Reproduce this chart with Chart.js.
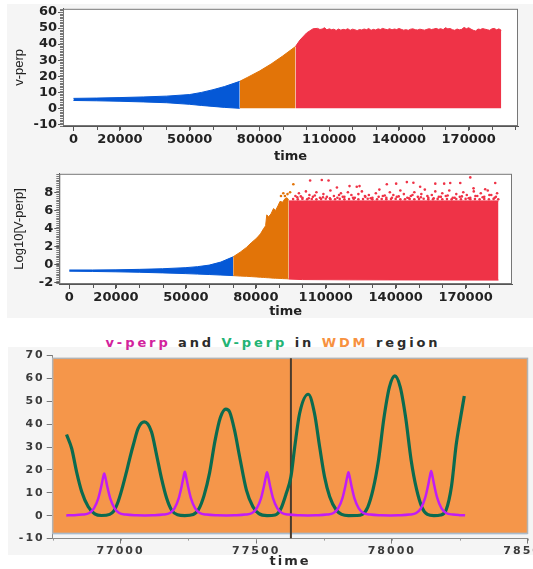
<!DOCTYPE html>
<html><head><meta charset="utf-8">
<script src="https://cdn.jsdelivr.net/npm/chart.js@4.4.1/dist/chart.umd.min.js"></script>
<style>
html,body{margin:0;padding:0;width:533px;height:569px;overflow:hidden;background:#fff;}
.bg{position:absolute;background:#f5f5f5;}
canvas{position:absolute;left:0;}
#title{position:absolute;left:0;width:546px;top:335px;text-align:center;font:bold 13px "DejaVu Sans",sans-serif;letter-spacing:2.9px;white-space:nowrap;line-height:16px;}
</style></head><body>
<div class="bg" style="left:7px;top:4px;width:526px;height:314px"></div>
<div class="bg" style="left:8px;top:347px;width:525px;height:208px"></div>
<div id="title"><span style="color:#d2229c">v-perp</span> <span style="color:#2b2b2b">and</span> <span style="color:#22b374">V-perp</span> <span style="color:#2b2b2b">in</span> <span style="color:#f7913f">WDM</span> <span style="color:#2b2b2b">region</span></div>
<canvas id="c1" width="533" height="165" style="top:0px"></canvas>
<canvas id="c2" width="533" height="155" style="top:165px"></canvas>
<canvas id="c3" width="560" height="222" style="top:347px"></canvas>
<script>
// ---------- tick labels ----------
const timeTickLabels = [0, 20000, 50000, 80000, 110000, 140000, 170000];
const p1YTicks = [-10, 0, 10, 20, 30, 40, 50, 60];
const p2YTicks = [-2, 0, 2, 4, 6, 8];
const wdmTickLabels = [77000, 77500, 78000, 78500];
const wdmYTicks = [-10, 0, 10, 20, 30, 40, 50, 60, 70];

// ---------- panel 1 : v-perp vs time ----------
const p1BlueT  = [0, 10000, 20000, 30000, 40000, 50000, 55000, 60000, 65000, 71500];
const p1BlueHi = [6.2, 6.4, 6.7, 7.1, 7.6, 8.6, 9.9, 11.6, 13.6, 16.8];
const p1BlueLo = [4.9, 4.7, 4.4, 4.0, 3.5, 2.5, 1.8, 1.2, 0.6, 0];
const p1OrangeT  = [71500, 75000, 80000, 85000, 90000, 95500];
const p1OrangeHi = [16.8, 19.4, 23.2, 27.6, 32.6, 38.5];
const p1RedT  = [95500, 97400, 100300, 103100, 105000, 106000, 107000, 108000, 109000, 110000, 111000, 112000, 113000, 114000, 115000, 116000, 117000, 118000, 119000, 120000, 121000, 122000, 123000, 124000, 125000, 126000, 127000, 128000, 129000, 130000, 131000, 132000, 133000, 134000, 135000, 136000, 137000, 138000, 139000, 140000, 141000, 142000, 143000, 144000, 145000, 146000, 147000, 148000, 149000, 150000, 151000, 152000, 153000, 154000, 155000, 156000, 157000, 158000, 159000, 160000, 161000, 162000, 163000, 164000, 165000, 166000, 167000, 168000, 169000, 170000, 171000, 172000, 173000, 174000, 175000, 176000, 177000, 178000, 179000, 180000, 181000, 182000, 183000, 184000];
const p1RedHi = [38.5, 42.5, 47.0, 49.6, 49.8, 49.1, 49.4, 50.2, 48.9, 49.5, 49.0, 49.3, 48.5, 49.4, 48.7, 49.2, 48.9, 49.6, 48.6, 49.3, 49.0, 48.4, 49.1, 48.8, 49.4, 49.0, 49.7, 48.6, 49.2, 48.8, 49.5, 49.1, 49.8, 49.3, 49.0, 49.6, 48.9, 49.4, 49.1, 49.7, 49.2, 48.7, 49.0, 48.6, 49.3, 49.5, 49.0, 48.8, 49.3, 49.0, 48.7, 49.2, 49.6, 49.1, 49.4, 49.8, 49.2, 49.6, 49.0, 50.2, 49.5, 49.7, 49.0, 48.6, 49.4, 48.9, 49.2, 50.4, 49.6, 50.2, 49.3, 48.6, 48.2, 49.4, 49.1, 49.7, 49.3, 49.0, 48.6, 49.5, 49.8, 48.9, 49.5, 48.6];

// ---------- panel 2 : Log10[V-perp] vs time ----------
const p2BlueT  = [0, 10000, 20000, 30000, 40000, 50000, 55000, 60000, 65000, 70300];
const p2BlueHi = [-0.6, -0.6, -0.58, -0.53, -0.46, -0.34, -0.23, -0.06, 0.28, 0.86];
const p2BlueLo = [-0.73, -0.76, -0.8, -0.85, -0.92, -1.0, -1.05, -1.1, -1.16, -1.22];
const p2OrangeT  = [70300, 73300, 76000, 78000, 80400, 82000, 83300, 84200, 84700, 85500, 86500, 87600, 88500, 89500, 90400, 91500, 92500, 93300, 94100];
const p2OrangeHi = [0.86, 1.37, 1.9, 2.4, 2.93, 3.4, 3.96, 4.3, 5.5, 5.3, 5.6, 6.2, 6.0, 6.5, 7.0, 6.9, 7.3, 7.4, 7.2];
const p2OrangeLo = [-1.22, -1.27, -1.3, -1.33, -1.37, -1.4, -1.42, -1.44, -1.45, -1.46, -1.48, -1.5, -1.51, -1.52, -1.53, -1.55, -1.56, -1.57, -1.58];
const p2RedT  = [94100, 100000, 120000, 140000, 160000, 184100];
const p2RedHi = [7.05, 7.05, 7.05, 7.05, 7.05, 7.05];
const p2RedLo = [-1.6, -1.66, -1.69, -1.7, -1.71, -1.72];
const p2OrangeDotT = [90800, 91800, 92500, 93600, 94700, 96100];
const p2OrangeDotV = [7.6, 7.9, 7.6, 7.8, 8.0, 8.9];
const p2RedDotT = [
  96000, 98000, 100000, 102000, 104000, 106000, 108000, 110000, 112000, 114000, 116000, 118000, 120000, 122000, 124000, 126000, 128000, 130000, 132000, 134000, 136000, 138000, 140000, 142000, 144000, 146000, 148000, 150000, 152000, 154000, 156000, 158000, 160000, 162000, 164000, 166000, 168000, 170000, 172000, 174000, 176000, 178000, 180000, 182000, 184000,
  97000, 98500, 100000, 101500, 103000, 104500, 106000, 107500, 109000, 110500, 112000, 113500, 115000, 116500, 118000, 119500, 121000, 122500, 124000, 125500, 127000, 128500, 130000, 131500, 133000, 134500, 136000, 137500, 139000, 140500, 142000, 143500, 145000, 146500, 148000, 149500, 151000, 152500, 154000, 155500, 157000, 158500, 160000, 161500, 163000, 164500, 166000, 167500, 169000, 170500, 172000, 173500, 175000, 176500, 178000, 179500, 181000, 182500, 183500,
  97800, 99300, 102700, 105300, 108800, 111800, 115700, 117300, 121700, 126800, 129300, 132700, 135300, 138400, 141300, 145700, 147200, 150800, 153600, 156300, 159400, 162300, 165300, 168400, 171300, 174200, 177300, 180200, 183000,
  103300, 108300, 111200, 114800, 120200, 123300, 124500, 136200, 140200, 144800, 147600, 150500, 157000, 160800, 163400, 167700, 172000, 173400, 178400, 182700];
const p2RedDotV = [
  7.25, 7.22, 7.27, 7.23, 7.26, 7.22, 7.25, 7.28, 7.23, 7.24, 7.27, 7.22, 7.25, 7.26, 7.23, 7.25, 7.28, 7.22, 7.24, 7.26, 7.23, 7.25, 7.27, 7.22, 7.24, 7.26, 7.23, 7.25, 7.28, 7.22, 7.24, 7.27, 7.23, 7.25, 7.22, 7.26, 7.24, 7.27, 7.23, 7.25, 7.22, 7.26, 7.24, 7.27, 7.23,
  7.6, 7.9, 7.4, 8.1, 7.7, 7.5, 8.0, 7.4, 7.8, 7.5, 8.2, 7.6, 7.4, 7.9, 7.5, 8.0, 7.7, 7.4, 7.8, 8.1, 7.5, 7.7, 7.4, 7.9, 8.3, 7.6, 7.4, 8.0, 7.7, 7.5, 8.2, 7.8, 7.4, 7.6, 8.0, 7.5, 7.8, 8.3, 7.4, 7.7, 8.1, 7.5, 7.9, 7.6, 8.2, 7.4, 7.8, 7.5, 8.0, 7.7, 7.4, 8.1, 7.6, 7.9, 7.5, 8.2, 7.7, 7.4, 7.9,
  7.45, 7.55, 7.35, 7.65, 7.45, 7.35, 7.7, 7.5, 7.4, 7.6, 7.35, 7.5, 7.65, 7.4, 7.55, 7.35, 7.7, 7.45, 7.6, 7.35, 7.5, 7.65, 7.4, 7.55, 7.35, 7.6, 7.45, 7.7, 7.5,
  9.3, 9.37, 9.3, 8.54, 8.69, 8.61, 8.69, 8.89, 8.96, 9.13, 9.06, 8.61, 8.96, 8.96, 9.03, 9.03, 9.65, 8.44, 8.34, 9.03];

// ---------- panel 3 : WDM region ----------
const VperpT = [76801, 76820, 76838, 76857, 76881, 76905, 76930, 76960, 76975, 76991, 77005, 77022, 77035, 77047, 77065, 77088, 77114, 77133, 77151, 77170, 77188, 77210, 77237, 77268, 77288, 77308, 77328, 77348, 77368, 77388, 77402, 77420, 77439, 77464, 77488, 77510, 77540, 77570, 77590, 77611, 77628, 77642, 77660, 77692, 77715, 77734, 77752, 77771, 77795, 77815, 77840, 77870, 77891, 77911, 77931, 77951, 77971, 77991, 78011, 78031, 78051, 78071, 78091, 78111, 78131, 78155, 78180, 78200, 78220, 78237, 78252, 78267];
const VperpV = [35.5, 29.4, 19.2, 10.5, 3.9, 0.8, 0.1, 0.6, 2.0, 6.1, 11.5, 19.2, 25.5, 30.9, 38.2, 41.0, 36.7, 26.5, 16.3, 7.6, 2.5, 0.4, 0.05, 0.5, 2.8, 8.9, 18.6, 32.6, 42.9, 46.6, 45.4, 37.5, 25.8, 11.2, 3.9, 0.9, 0.05, 0.3, 2.8, 9.8, 17.0, 30.0, 44.7, 53.1, 44.7, 30.0, 17.0, 8.3, 2.5, 0.6, 0.05, 0.1, 0.6, 3.7, 11.6, 24.4, 42.8, 56.2, 61.1, 56.2, 42.8, 24.4, 11.6, 3.7, 0.6, 0.05, 0.3, 2.5, 13.0, 30.9, 42.0, 52.3];
const vperpT = [76800, 76820, 76860, 76885, 76902, 76918, 76928, 76935, 76940, 76945, 76952, 76962, 76978, 76995, 77020, 77060, 77090, 77117, 77157, 77182, 77199, 77215, 77225, 77232, 77237, 77242, 77249, 77259, 77275, 77292, 77317, 77357, 77390, 77420, 77460, 77485, 77502, 77518, 77528, 77535, 77540, 77545, 77552, 77562, 77578, 77595, 77620, 77660, 77690, 77720, 77760, 77785, 77802, 77818, 77828, 77835, 77840, 77845, 77852, 77862, 77878, 77895, 77920, 77960, 77995, 78025, 78065, 78090, 78107, 78123, 78133, 78140, 78145, 78150, 78157, 78167, 78183, 78200, 78225, 78250, 78270];
const vperpV = [0.15, 0.2, 0.5, 1.2, 3.2, 7.6, 12.3, 16.3, 18.5, 16.3, 12.3, 7.6, 3.2, 1.2, 0.5, 0.2, 0.15, 0.2, 0.5, 1.2, 3.2, 7.8, 12.7, 16.8, 19.2, 16.8, 12.7, 7.8, 3.2, 1.2, 0.5, 0.2, 0.15, 0.2, 0.5, 1.2, 3.2, 7.7, 12.6, 16.7, 19.0, 16.7, 12.6, 7.7, 3.2, 1.2, 0.5, 0.2, 0.15, 0.2, 0.5, 1.2, 3.2, 7.7, 12.6, 16.7, 19.0, 16.7, 12.6, 7.7, 3.2, 1.2, 0.5, 0.2, 0.15, 0.2, 0.5, 1.2, 3.2, 7.9, 12.9, 17.1, 19.6, 17.1, 12.9, 7.9, 3.2, 1.2, 0.5, 0.25, 0.2];
const cursorTime = 77628;

// ---------- colours ----------
const BLUE = '#0558d6', ORANGE = '#e27408', RED = '#ef3347';
const GREEN = '#0b6b4f', MAGENTA = '#c21cf5', WDM_BG = '#f5964a';

function pts(t, v) { return t.map((x, i) => ({x: x, y: v[i]})); }
function fixedTicks(list) { return (s) => { s.ticks = list.map(v => ({value: v})); }; }
function band(t, v, color, fill) {
  return {data: pts(t, v), borderColor: color, backgroundColor: color, borderWidth: 1,
    pointRadius: 0, fill: fill, tension: 0};
}
function dots(t, v, color) {
  return {data: pts(t, v), showLine: false, pointRadius: 1.3, pointBorderWidth: 0,
    pointBackgroundColor: color, borderColor: color, backgroundColor: color, fill: false};
}

function decor(cfg) {
  return {
    id: 'decor',
    beforeDraw(chart) {
      const {ctx, chartArea: a} = chart;
      ctx.letterSpacing = cfg.spacing || '0px';
      if (cfg.plotFill) {
        ctx.save(); ctx.fillStyle = cfg.plotFill;
        ctx.fillRect(a.left, a.top, a.right - a.left, a.bottom - a.top);
        ctx.restore();
      }
    },
    beforeDatasetsDraw(chart) {
      if (!cfg.box) return;
      const {ctx, chartArea: a, scales} = chart;
      const y1 = scales.y.getPixelForValue(cfg.box[1]);
      const y0 = scales.y.getPixelForValue(cfg.box[0]);
      ctx.save();
      ctx.fillStyle = cfg.box[2];
      ctx.fillRect(a.left, y1, a.right - a.left, y0 - y1);
      ctx.strokeStyle = '#b3b3b3'; ctx.lineWidth = 1.5;
      ctx.strokeRect(a.left, y1, a.right - a.left, y0 - y1);
      ctx.strokeStyle = '#a8bfd6'; ctx.lineWidth = 1;
      ctx.beginPath(); ctx.moveTo(a.left, y0 + 0.5); ctx.lineTo(a.right, y0 + 0.5); ctx.stroke();
      ctx.restore();
    },
    afterDraw(chart) {
      const {ctx, chartArea: a, scales} = chart;
      ctx.save();
      if (cfg.frame) {
        ctx.strokeStyle = cfg.frame; ctx.lineWidth = 1;
        ctx.strokeRect(a.left + 0.5, a.top + 0.5, a.right - a.left - 1, a.bottom - a.top - 1);
      }
      if (cfg.yMinor) {
        const s = scales.y; ctx.strokeStyle = '#777'; ctx.lineWidth = 1;
        ctx.beginPath();
        for (let v = Math.ceil(s.min / cfg.yMinor) * cfg.yMinor; v <= s.max; v += cfg.yMinor) {
          const p = Math.round(s.getPixelForValue(v)) + 0.5;
          ctx.moveTo(a.left - 3, p); ctx.lineTo(a.left, p);
        }
        ctx.stroke();
      }
      if (cfg.xMinor) {
        const s = scales.x; ctx.strokeStyle = cfg.xMinorColor || '#555'; ctx.lineWidth = 1;
        ctx.beginPath();
        for (let v = Math.ceil(s.min / cfg.xMinor) * cfg.xMinor; v <= s.max; v += cfg.xMinor) {
          const p = Math.round(s.getPixelForValue(v)) + 0.5;
          ctx.moveTo(p, a.bottom); ctx.lineTo(p, a.bottom + cfg.xMinorLen);
        }
        ctx.stroke();
      }
      ctx.restore();
      ctx.letterSpacing = '0px';
    }
  };
}

const tickFont = {family: '"DejaVu Sans", sans-serif', size: 13, weight: 'bold'};
const yTitleFont = {family: '"Liberation Sans", Arial, sans-serif', size: 13};
const base = {responsive: false, animation: false, events: [],
  plugins: {legend: {display: false}, tooltip: {enabled: false}}};

function timeAxis(min, max, h) {
  return {type: 'linear', min: min, max: max,
    afterBuildTicks: fixedTicks(timeTickLabels),
    ticks: {autoSkip: false, maxRotation: 0, minRotation: 0, padding: 1,
      color: '#222', font: tickFont, callback: (v) => String(v)},
    grid: {drawOnChartArea: false, tickLength: 5, tickColor: '#555'},
    border: {display: true, color: '#555'},
    title: {display: true, text: 'time', color: '#222', font: tickFont, padding: {top: 0, bottom: 1}},
    afterFit(s) { s.height = h; }};
}
function valueAxis(min, max, list, title, w) {
  return {min: min, max: max,
    afterBuildTicks: fixedTicks(list),
    ticks: {autoSkip: false, padding: 1, color: '#222', font: tickFont, callback: (v) => String(v)},
    grid: {drawOnChartArea: false, tickLength: 5, tickColor: '#555'},
    border: {display: true, color: '#555'},
    title: {display: true, text: title, color: '#222', font: yTitleFont, padding: {top: 4, bottom: 0}},
    afterFit(s) { s.width = w; }};
}

// Panel 1
new Chart(document.getElementById('c1'), {
  type: 'line',
  data: {datasets: [
    band(p1BlueT, p1BlueHi, BLUE, '+1'),
    band(p1BlueT, p1BlueLo, BLUE, false),
    band(p1OrangeT, p1OrangeHi, ORANGE, {value: 0}),
    band(p1RedT, p1RedHi, RED, {value: 0})
  ]},
  options: Object.assign({}, base, {
    layout: {padding: {left: 8, top: 7, right: 15, bottom: 0}},
    scales: {
      x: timeAxis(-4500, 191200, 39),
      y: valueAxis(-11, 62, p1YTicks, 'v-perp', 55)
    }
  }),
  plugins: [decor({plotFill: '#ffffff', frame: '#777', yMinor: 1, xMinor: 10000, xMinorLen: 4})]
});

// Panel 2
new Chart(document.getElementById('c2'), {
  type: 'line',
  data: {datasets: [
    band(p2BlueT, p2BlueHi, BLUE, '+1'),
    band(p2BlueT, p2BlueLo, BLUE, false),
    band(p2OrangeT, p2OrangeHi, ORANGE, '+1'),
    band(p2OrangeT, p2OrangeLo, ORANGE, false),
    band(p2RedT, p2RedHi, RED, '+1'),
    band(p2RedT, p2RedLo, RED, false),
    dots(p2RedDotT, p2RedDotV, RED),
    dots(p2OrangeDotT, p2OrangeDotV, ORANGE)
  ]},
  options: Object.assign({}, base, {
    layout: {padding: {left: 8, top: 1, right: 21, bottom: 0}},
    scales: {
      x: timeAxis(-4300, 189900, 36),
      y: valueAxis(-2.15, 10.05, p2YTicks, 'Log10[V-perp]', 51.3)
    }
  }),
  plugins: [decor({plotFill: '#ffffff', frame: '#777', yMinor: 0.2, xMinor: 10000, xMinorLen: 4})]
});

// Panel 3
const wdmFont = {family: '"DejaVu Sans", sans-serif', size: 11, weight: 'bold'};
new Chart(document.getElementById('c3'), {
  type: 'line',
  data: {datasets: [
    {data: pts(vperpT, vperpV), borderColor: MAGENTA, borderWidth: 2.5, pointRadius: 0,
      fill: false, cubicInterpolationMode: 'monotone', order: 1},
    {data: pts(VperpT, VperpV), borderColor: GREEN, borderWidth: 3.2, pointRadius: 0,
      fill: false, cubicInterpolationMode: 'monotone', order: 2},
    {data: [{x: cursorTime, y: -10}, {x: cursorTime, y: 68.8}], borderColor: '#4a3b2c',
      borderWidth: 2, pointRadius: 0, fill: false, order: 3}
  ]},
  options: Object.assign({}, base, {
    layout: {padding: {left: 0, top: 8.3, right: 32.5, bottom: 0}},
    scales: {
      x: {type: 'linear', min: 76750, max: 78500,
        afterBuildTicks: fixedTicks(wdmTickLabels),
        ticks: {autoSkip: false, maxRotation: 0, minRotation: 0, padding: 1,
          color: '#3a3a3a', font: wdmFont, callback: (v) => String(v)},
        grid: {drawOnChartArea: false, tickLength: 5, tickColor: '#777'},
        border: {display: true, color: '#8a8a8a'},
        title: {display: true, text: 'time', color: '#2b2b2b',
          font: {family: '"DejaVu Sans", sans-serif', size: 13, weight: 'bold'}, padding: {top: 0, bottom: 0}},
        afterFit(s) { s.height = 30.4; }},
      y: {min: -10, max: 70,
        afterBuildTicks: fixedTicks(wdmYTicks),
        ticks: {autoSkip: false, padding: 2, color: '#3a3a3a', font: wdmFont, callback: (v) => String(v)},
        grid: {drawOnChartArea: false, tickLength: 6, tickColor: '#777'},
        border: {display: true, color: '#8a8a8a'},
        afterFit(s) { s.width = 52.7; }}
    }
  }),
  plugins: [decor({spacing: '2px', box: [-7.7, 68.8, WDM_BG], xMinor: 250, xMinorLen: 2, xMinorColor: '#999'})]
});
</script>
</body></html>
